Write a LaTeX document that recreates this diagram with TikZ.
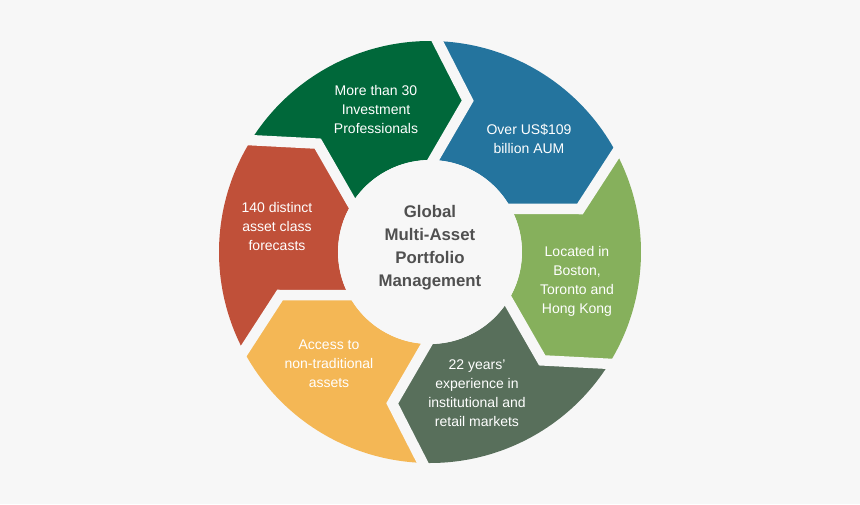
\documentclass[tikz,border=0pt]{standalone}
\usepackage{fontspec}
\setmainfont{Liberation Sans}
\usepackage{tikz}
\usetikzlibrary{calc}
\definecolor{bgGray}{RGB}{247,247,247}
\definecolor{hubText}{RGB}{80,80,80}
\definecolor{segGreen}{RGB}{0,104,58}
\definecolor{segBlue}{RGB}{36,116,158}
\definecolor{segLime}{RGB}{134,176,92}
\definecolor{segSage}{RGB}{88,111,91}
\definecolor{segAmber}{RGB}{244,183,85}
\definecolor{segRust}{RGB}{192,80,57}

\begin{document}
\begin{tikzpicture}[x=1pt,y=1pt,
  seglabel/.style={text=white,align=center,font=\fontsize{14}{19}\selectfont},
  gapline/.style={draw=bgGray,line width=10.5pt,line join=miter},
  hubdisc/.style={circle,fill=bgGray,minimum size=184pt,inner sep=0pt}]
\fill[bgGray] (-430,-252) rectangle (430,252);
\useasboundingbox (-430,-252) rectangle (430,252);
% ring segments, clockwise from the top left
\foreach \a/\col in {148/segGreen,88/segBlue,28/segLime,-32/segSage,-92/segAmber,-152/segRust}
  \fill[\col] (\a:211) arc[start angle=\a,end angle=\a-60,radius=211pt] -- (\a-72:156)
    -- (\a-60:92) arc[start angle=\a-60,end angle=\a,radius=92pt] -- (\a-12:156) -- cycle;
% chevron gaps
\foreach \a in {148,88,28,-32,-92,-152}
  \draw[gapline] ($(\a-12:156)!1.3!(\a:211)$) -- (\a-12:156) -- ($(\a-12:156)!1.5!(\a:92)$);
\node[hubdisc] (hub) at (0,0) {};
\node[text=hubText,align=center,font=\fontsize{16.8}{23}\selectfont\bfseries] (hubtext) at ($(hub)+(0,4)$)
  {Global\\Multi-Asset\\Portfolio\\Management};
\node[seglabel] (staff) at (-54,143) {More than 30\\Investment\\Professionals};
\node[seglabel] (aum) at (99,113.5) {Over US\$109\\billion AUM};
\node[seglabel] (offices) at (147,-29) {Located in\\Boston,\\Toronto and\\Hong Kong};
\node[seglabel] (years) at (47,-141.5) {22 years’\\experience in\\institutional and\\retail markets};
\node[seglabel] (access) at (-101,-112) {Access to\\non-traditional\\assets};
\node[seglabel] (forecasts) at (-153,26) {140 distinct\\asset class\\forecasts};
\end{tikzpicture}
\end{document}
